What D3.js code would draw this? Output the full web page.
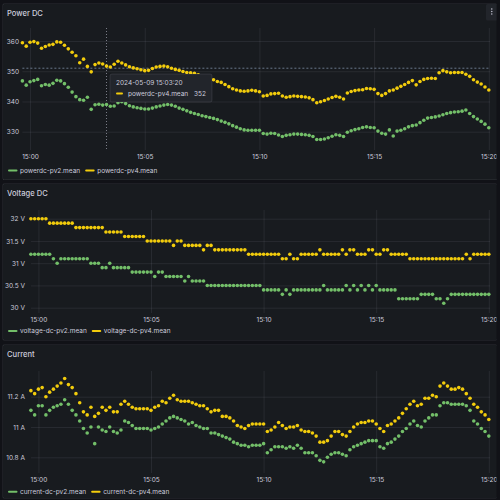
<!DOCTYPE html>
<html>
<head>
<meta charset="utf-8">
<script src="https://cdn.jsdelivr.net/npm/d3@7"></script>
<style>
  html, body { margin: 0; padding: 0; background: #111217; }
  svg { display: block; font-family: Inter, 'Noto Sans', sans-serif; }
</style>
</head>
<body>
<div class="graphs"></div>
<script>
// samples every 10 s from 14:59:40 to 15:20:00
const startTime = new Date(2024, 4, 9, 14, 59, 40);
const stepSeconds = 10;
const timeTicks = ['15:00', '15:05', '15:10', '15:15', '15:20'];

const seriesColors = ['#73bf69', '#f2cc0c'];

const powerTicks = [330, 340, 350, 360];
const powerNames = ['powerdc-pv2.mean', 'powerdc-pv4.mean'];
const powerPv2 = [
  346.8, 345.4, 346.5, 346.9, 347.3, 345.2, 345.6, 345.4, 346.0, 347.0,
  346.8, 345.9, 344.7, 343.1, 341.6, 340.6, 340.4, 341.4, 337.4, 338.9,
  339.1, 338.8, 339.0, 338.4, 338.5, 339.6, 339.9, 339.3, 338.6, 338.2,
  337.9, 337.7, 337.5, 337.5, 337.8, 338.2, 338.5, 338.8, 339.0, 338.8,
  338.4, 337.8, 337.4, 336.9, 336.4, 336.0, 335.7, 335.3, 335.0, 334.7,
  334.4, 334.0, 333.5, 333.1, 332.6, 332.0, 331.5, 331.0, 330.6, 330.5,
  330.5, 330.5, 330.5, 329.4, 329.2, 329.5, 329.4, 328.9, 328.4, 328.8,
  329.0, 329.2, 329.2, 329.1, 329.0, 328.8, 328.4, 327.4, 327.4, 327.6,
  328.0, 328.5, 329.0, 328.8, 328.4, 329.8, 330.3, 330.7, 331.0, 331.4,
  331.6, 331.4, 331.3, 330.2, 329.5, 329.2, 330.6, 328.6, 330.2, 330.5,
  331.0, 331.6, 332.0, 332.2, 333.0, 333.8, 334.5, 334.7, 334.9, 335.2,
  335.6, 336.0, 336.3, 336.5, 336.6, 336.8, 337.2, 336.0, 335.0, 334.2,
  333.4, 332.5, 331.3
];
const powerPv4 = [
  359.4, 358.3, 359.6, 359.8, 359.3, 357.6, 358.2, 358.7, 358.9, 359.7,
  359.6, 358.6, 357.4, 356.3, 355.1, 352.8, 354.0, 351.6, 349.8, 352.2,
  352.7, 352.4, 351.7, 351.4, 352.3, 353.3, 352.7, 352.1, 351.5, 351.1,
  350.8, 350.5, 350.2, 350.3, 350.9, 351.4, 351.6, 351.7, 351.5, 351.0,
  350.6, 350.3, 349.9, 349.6, 349.5, 349.3, 348.8, 348.4, 348.0, 347.6,
  347.2, 346.6, 346.3, 345.6, 344.9, 344.2, 343.8, 343.5, 343.4, 343.5,
  343.7, 343.5, 343.2, 341.8, 342.0, 342.5, 342.6, 342.7, 341.8, 341.4,
  341.6, 341.8, 341.7, 341.6, 341.5, 341.2, 340.6, 339.6, 339.9, 340.3,
  340.8, 341.3, 341.7, 341.4, 340.8, 342.8, 343.3, 343.6, 343.8, 343.9,
  344.3, 344.2, 344.0, 342.6, 342.0, 342.6, 343.5, 343.8, 344.4, 345.0,
  345.6, 346.3, 346.9, 345.5, 346.6, 347.3, 347.6, 347.7, 347.6, 349.5,
  350.2, 349.8, 349.5, 349.6, 349.6, 349.6, 349.0, 348.3, 347.2, 346.4,
  345.8, 344.8, 343.8
];

const voltageTicks = [30, 30.5, 31, 31.5, 32];
const voltageNames = ['voltage-dc-pv2.mean', 'voltage-dc-pv4.mean'];
const voltagePv2 = [
  31.2, 31.2, 31.2, 31.2, 31.2, 31.2, 31.1, 31.0, 31.1, 31.1,
  31.1, 31.1, 31.1, 31.1, 31.1, 31.1, 31.0, 31.0, 31.0, 30.9,
  30.9, 31.0, 30.9, 30.9, 30.9, 30.9, 30.9, 30.8, 30.8, 30.8,
  30.8, 30.8, 30.8, 30.7, 30.8, 30.8, 30.7, 30.7, 30.7, 30.7,
  30.7, 30.6, 30.7, 30.6, 30.6, 30.6, 30.6, 30.5, 30.5, 30.5,
  30.5, 30.5, 30.5, 30.5, 30.5, 30.5, 30.5, 30.5, 30.5, 30.5,
  30.5, 30.5, 30.4, 30.4, 30.4, 30.4, 30.4, 30.3, 30.4, 30.3,
  30.4, 30.4, 30.4, 30.4, 30.4, 30.4, 30.4, 30.4, 30.5, 30.4,
  30.4, 30.4, 30.4, 30.4, 30.5, 30.4, 30.5, 30.4, 30.5, 30.4,
  30.5, 30.4, 30.5, 30.4, 30.4, 30.4, 30.4, 30.4, 30.2, 30.2,
  30.2, 30.2, 30.2, 30.2, 30.3, 30.3, 30.3, 30.3, 30.2, 30.2,
  30.1, 30.2, 30.3, 30.3, 30.3, 30.3, 30.3, 30.3, 30.3, 30.3,
  30.3, 30.3, 30.3
];
const voltagePv4 = [
  32.0, 32.0, 32.0, 32.0, 32.0, 31.9, 31.9, 31.9, 31.9, 31.9,
  31.9, 31.9, 31.8, 31.8, 31.8, 31.8, 31.8, 31.8, 31.8, 31.8,
  31.7, 31.7, 31.7, 31.7, 31.7, 31.6, 31.6, 31.6, 31.6, 31.6,
  31.6, 31.5, 31.5, 31.5, 31.5, 31.5, 31.5, 31.5, 31.4, 31.5,
  31.5, 31.4, 31.4, 31.4, 31.4, 31.4, 31.3, 31.4, 31.4, 31.3,
  31.3, 31.3, 31.3, 31.3, 31.3, 31.3, 31.3, 31.3, 31.2, 31.2,
  31.2, 31.2, 31.2, 31.2, 31.2, 31.2, 31.2, 31.1, 31.1, 31.2,
  31.1, 31.1, 31.2, 31.2, 31.2, 31.2, 31.2, 31.3, 31.2, 31.2,
  31.2, 31.2, 31.2, 31.3, 31.2, 31.3, 31.3, 31.2, 31.2, 31.2,
  31.3, 31.3, 31.2, 31.2, 31.3, 31.3, 31.2, 31.2, 31.2, 31.2,
  31.2, 31.1, 31.1, 31.1, 31.1, 31.1, 31.1, 31.1, 31.1, 31.1,
  31.1, 31.1, 31.1, 31.1, 31.1, 31.1, 31.2, 31.1, 31.2, 31.2,
  31.2, 31.2, 31.2
];

const currentTicks = [10.8, 11, 11.2];
const currentNames = ['current-dc-pv2.mean', 'current-dc-pv4.mean'];
const currentPv2 = [
  11.11, 11.08, 11.14, 11.14, 11.08, 11.11, 11.13, 11.14, 11.15, 11.18,
  11.15, 11.11, 11.08, 11.04, 10.99, 10.96, 11.00, 10.89, 11.00, 10.98,
  10.97, 11.00, 10.97, 10.96, 10.98, 11.04, 11.03, 11.01, 10.99, 10.99,
  10.99, 10.99, 10.98, 10.99, 11.00, 11.02, 11.04, 11.06, 11.07, 11.06,
  11.05, 11.04, 11.02, 11.03, 11.01, 11.00, 10.99, 10.99, 10.96, 10.96,
  10.95, 10.94, 10.93, 10.92, 10.90, 10.89, 10.88, 10.88, 10.87, 10.88,
  10.88, 10.88, 10.89, 10.83, 10.85, 10.87, 10.87, 10.87, 10.86, 10.87,
  10.86, 10.88, 10.86, 10.83, 10.83, 10.83, 10.81, 10.78, 10.77, 10.80,
  10.82, 10.83, 10.83, 10.82, 10.81, 10.85, 10.87, 10.88, 10.89, 10.90,
  10.91, 10.91, 10.91, 10.87, 10.86, 10.89, 10.90, 10.92, 10.94, 10.97,
  10.99, 11.02, 11.04, 11.01, 11.00, 11.04, 11.06, 11.08, 11.08, 11.14,
  11.16, 11.16, 11.15, 11.15, 11.15, 11.15, 11.14, 11.11, 11.04, 11.02,
  10.99, 10.97, 10.94
];
const currentPv4 = [
  11.24, 11.22, 11.25, 11.26, 11.20, 11.23, 11.25, 11.27, 11.29, 11.32,
  11.28, 11.26, 11.22, 11.16, 11.10, 11.08, 11.13, 11.07, 11.09, 11.13,
  11.11, 11.13, 11.10, 11.10, 11.15, 11.17, 11.15, 11.13, 11.12, 11.12,
  11.12, 11.12, 11.11, 11.13, 11.14, 11.17, 11.16, 11.19, 11.21, 11.18,
  11.17, 11.17, 11.17, 11.16, 11.15, 11.14, 11.14, 11.12, 11.10, 11.11,
  11.11, 11.07, 11.07, 11.06, 11.04, 11.01, 11.00, 10.99, 11.01, 11.02,
  11.02, 11.02, 11.02, 10.97, 10.98, 11.00, 11.03, 11.01, 10.99, 11.00,
  11.00, 11.01, 10.98, 10.97, 10.97, 10.96, 10.94, 10.90, 10.90, 10.91,
  10.94, 10.97, 10.97, 10.95, 10.94, 10.97, 11.00, 11.02, 11.03, 11.03,
  11.04, 11.04, 11.02, 10.99, 10.97, 11.01, 11.02, 11.04, 11.06, 11.09,
  11.12, 11.15, 11.17, 11.14, 11.15, 11.19, 11.19, 11.21, 11.20, 11.27,
  11.29, 11.27, 11.25, 11.25, 11.26, 11.25, 11.22, 11.19, 11.15, 11.13,
  11.10, 11.08, 11.05
];

// tooltip shown for the hovered sample in the first panel
const hoverIndex = 22;
const hoverCursorValue = 351;

const timeAt = i => new Date(startTime.getTime() + i * stepSeconds * 1000);
const endTime = timeAt(powerPv2.length - 1);
const tickDates = timeTicks.map(t => {
  const [h, m] = t.split(':').map(Number);
  return new Date(2024, 4, 9, h, m, 0);
});

const textColor = '#ccccdc',
  gridColor = 'rgba(204,204,220,0.09)',
  fontSize = 6.5,
  plotRight = 490,
  lastX = 488.8;

const svg = d3.select('.graphs').append('svg')
  .attr('width', 500).attr('height', 500);
svg.append('rect').attr('width', 500).attr('height', 500).attr('fill', '#111217');

const Panel = (p, idx) => {
  svg.append('clipPath').attr('id', 'clip' + idx)
    .append('rect').attr('x', 2.5).attr('y', p.top).attr('width', 494).attr('height', p.height);
  const g = svg.append('g').attr('clip-path', `url(#clip${idx})`);

  g.append('rect')
    .attr('x', 2.5).attr('y', p.top).attr('width', 495).attr('height', p.height)
    .attr('rx', 2).attr('fill', '#181b1f').attr('stroke', 'rgba(204,204,220,0.14)');

  g.append('text')
    .attr('x', 7).attr('y', p.top + 12.5)
    .attr('fill', textColor).attr('font-size', 7.6).attr('font-weight', 500)
    .text(p.title);

  let x = d3.scaleTime().domain([startTime, endTime]).range([p.left, lastX]),
    y = d3.scaleLinear().domain(p.yDomain).range(p.yRange);

  // x axis + vertical grid
  g.append('g')
    .attr('transform', 'translate(0,' + p.gridBottom + ')')
    .call(d3.axisBottom(x).tickValues(tickDates).tickFormat(d3.timeFormat('%H:%M'))
      .tickSize(-(p.gridBottom - p.gridTop)).tickPadding(4.3))
    .attr('font-size', null).attr('font-family', null)
    .call(a => a.select('.domain').remove())
    .call(a => a.selectAll('line').attr('stroke', gridColor))
    .call(a => a.selectAll('text').attr('fill', textColor).attr('font-size', fontSize));

  // y axis + horizontal grid
  g.append('g')
    .attr('transform', 'translate(' + p.left + ',0)')
    .call(d3.axisLeft(y).tickValues(p.ticks).tickFormat(p.format)
      .tickSize(-(plotRight - p.left)).tickPadding(p.labelPad))
    .attr('font-size', null).attr('font-family', null)
    .call(a => a.select('.domain').remove())
    .call(a => a.selectAll('line').attr('stroke', gridColor))
    .call(a => a.selectAll('text').attr('fill', textColor).attr('font-size', fontSize));

  if (p.hover) p.hover(g, x, y);

  p.series.forEach((values, k) => {
    g.append('g')
      .selectAll('circle')
      .data(values)
      .enter()
      .append('circle')
      .attr('cx', (d, i) => x(timeAt(i)))
      .attr('cy', d => y(d))
      .attr('r', 1.8)
      .style('fill', seriesColors[k]);
  });

  // legend
  let lx = 9;
  p.names.forEach((name, k) => {
    g.append('line')
      .attr('x1', lx).attr('x2', lx + 7.5)
      .attr('y1', p.legendY).attr('y2', p.legendY)
      .attr('stroke', seriesColors[k]).attr('stroke-width', 2).attr('stroke-linecap', 'round');
    let t = g.append('text')
      .attr('x', lx + 11).attr('y', p.legendY).attr('dy', '0.35em')
      .attr('fill', textColor).attr('font-size', fontSize)
      .text(name);
    lx += 11 + t.node().getComputedTextLength() + 6;
  });

  if (p.tooltip) p.tooltip(g, x, y);
};

const crosshair = (g, x, y) => {
  g.append('line')
    .attr('x1', x(timeAt(hoverIndex))).attr('x2', x(timeAt(hoverIndex)))
    .attr('y1', 28).attr('y2', 150)
    .attr('stroke', 'rgba(204,204,220,0.55)').attr('stroke-dasharray', '1,2');
  g.append('line')
    .attr('x1', 22.4).attr('x2', plotRight)
    .attr('y1', y(hoverCursorValue)).attr('y2', y(hoverCursorValue))
    .attr('stroke', 'rgba(160,180,210,0.6)').attr('stroke-dasharray', '2,2');
};

const tooltip = (g, x, y) => {
  let tx = x(timeAt(hoverIndex)) + 3.5, ty = 74,
    tip = g.append('g').attr('transform', 'translate(' + tx + ',' + ty + ')');
  tip.append('rect')
    .attr('width', 102).attr('height', 28).attr('rx', 2)
    .attr('fill', '#22252b').attr('stroke', 'rgba(204,204,220,0.12)');
  tip.append('text')
    .attr('x', 6).attr('y', 8.5).attr('dy', '0.35em')
    .attr('fill', textColor).attr('font-size', fontSize)
    .text(d3.timeFormat('%Y-%m-%d %H:%M:%S')(timeAt(hoverIndex)));
  tip.append('line')
    .attr('x1', 7).attr('x2', 12).attr('y1', 19.5).attr('y2', 19.5)
    .attr('stroke', seriesColors[1]).attr('stroke-width', 2).attr('stroke-linecap', 'round');
  tip.append('text')
    .attr('x', 18).attr('y', 19.5).attr('dy', '0.35em')
    .attr('fill', textColor).attr('font-size', fontSize)
    .text(powerNames[1]);
  tip.append('text')
    .attr('x', 96).attr('y', 19.5).attr('dy', '0.35em')
    .attr('text-anchor', 'end')
    .attr('fill', textColor).attr('font-size', fontSize)
    .text(d3.format('.0f')(powerPv4[hoverIndex]));

  // panel menu button
  let m = g.append('g').attr('transform', 'translate(486,4)');
  m.append('rect').attr('width', 11.5).attr('height', 16.5).attr('rx', 1.5).attr('fill', '#22252b');
  [5, 7.5, 10].forEach(cy => m.append('circle').attr('cx', 5.8).attr('cy', cy).attr('r', 0.7).attr('fill', textColor));
};

const panels = [
  {
    title: 'Power DC', top: 3.5, height: 176.5, left: 22.4,
    yDomain: [330, 360], yRange: [131.7, 41], ticks: powerTicks, format: d => d,
    gridTop: 28, gridBottom: 150, labelPad: 3.4, legendY: 170.5,
    series: [powerPv2, powerPv4], names: powerNames,
    hover: crosshair, tooltip: tooltip
  },
  {
    title: 'Voltage DC', top: 183.5, height: 157, left: 30.9,
    yDomain: [30, 32], yRange: [307.7, 218.7], ticks: voltageTicks, format: d => d + ' V',
    gridTop: 210, gridBottom: 313, labelPad: 6, legendY: 331,
    series: [voltagePv2, voltagePv4], names: voltageNames
  },
  {
    title: 'Current', top: 344.5, height: 154, left: 30.9,
    yDomain: [10.8, 11.2], yRange: [457.3, 396.7], ticks: currentTicks, format: d => d + ' A',
    gridTop: 371, gridBottom: 473, labelPad: 6, legendY: 491.7,
    series: [currentPv2, currentPv4], names: currentNames
  }
];

panels.forEach(Panel);
</script>
</body>
</html>
